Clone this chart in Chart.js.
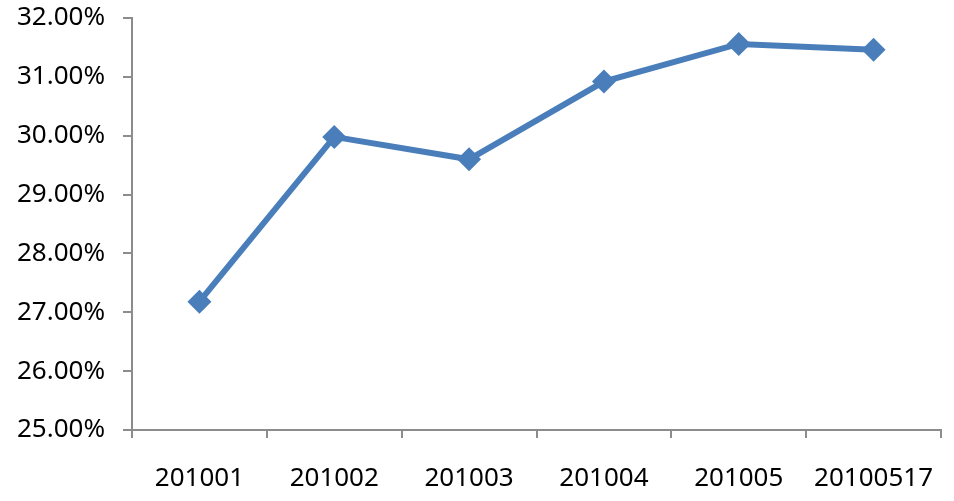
<!DOCTYPE html>
<html>
<head>
<meta charset="utf-8">
<script src="https://cdn.jsdelivr.net/npm/chart.js@4"></script>
<style>
    html, body { margin: 0; padding: 0; background: #fff; }
    #wrap { width: 954px; height: 501px; }
</style>
</head>
<body>
<div id="wrap"><canvas id="chart" width="954" height="501"></canvas></div>
<script>
// 데이터
const categories = ['201001', '201002', '201003', '201004', '201005', '20100517'];
const rates = [27.18, 29.98, 29.60, 30.92, 31.56, 31.46];
const yMin = 25;
const yMax = 32;

const axisColor = '#8c8c8c';
const lineColor = '#4a7ebb';
const labelFont = { family: 'Noto Sans', size: 26 };

new Chart(document.getElementById('chart').getContext('2d'), {
    type: 'line',
    data: {
        labels: categories,
        datasets: [{
            data: rates,
            borderColor: lineColor,
            backgroundColor: lineColor,
            borderWidth: 6,
            tension: 0,
            pointStyle: 'rectRot',
            pointRadius: 12,
            pointHoverRadius: 12,
            pointBorderWidth: 0
        }]
    },
    options: {
        responsive: false,
        animation: false,
        layout: { padding: { top: 18, right: 13, left: 0, bottom: 0 } },
        plugins: { legend: { display: false }, tooltip: { enabled: false } },
        scales: {
            x: {
                offset: true,
                grid: {
                    offset: true,
                    drawOnChartArea: false,
                    drawTicks: true,
                    tickLength: 8,
                    tickColor: axisColor,
                    lineWidth: 2
                },
                border: { color: axisColor, width: 2 },
                ticks: {
                    color: '#000',
                    padding: 25,
                    maxRotation: 0,
                    font: labelFont
                },
                afterFit: scale => {
                    scale.height = 71;
                    scale.paddingLeft = 0;
                    scale.paddingRight = 0;
                }
            },
            y: {
                min: yMin,
                max: yMax,
                grid: {
                    drawOnChartArea: false,
                    drawTicks: true,
                    tickLength: 9,
                    tickColor: axisColor,
                    lineWidth: 2
                },
                border: { color: axisColor, width: 2 },
                ticks: {
                    stepSize: 1,
                    color: '#000',
                    padding: 18,
                    font: labelFont,
                    callback: v => v.toFixed(2) + '%'
                },
                afterFit: scale => {
                    scale.width = 132;
                    scale.paddingTop = 0;
                    scale.paddingBottom = 0;
                }
            }
        }
    }
});
</script>
</body>
</html>
